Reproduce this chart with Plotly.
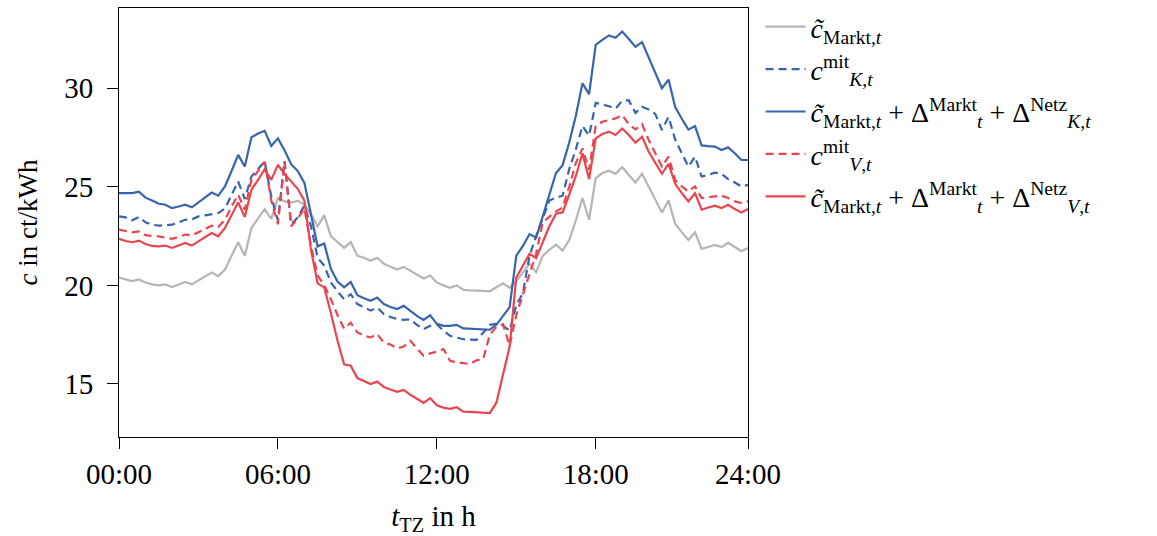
import plotly.graph_objects as go

hours = [k * 0.25 for k in range(96)]

c_markt = [20.4, 20.3, 20.22, 20.3, 20.15, 20.05, 20.0, 20.05, 19.92, 20.05, 20.17, 20.05,
           20.25, 20.47, 20.65, 20.47, 20.8, 21.5, 22.19, 21.5, 22.91, 23.4, 23.87, 23.37,
           24.43, 24.26, 24.2, 24.3, 24.1, 23.6, 23.0, 23.55, 22.5, 22.2, 21.9, 22.2,
           21.5, 21.4, 21.25, 21.4, 21.1, 20.95, 20.8, 20.94, 20.75, 20.55, 20.35, 20.5,
           20.15, 20.0, 19.88, 20.0, 19.78, 19.75, 19.72, 19.72, 19.7, 19.9, 20.1, 19.88,
           20.22, 20.65, 21.1, 20.67, 21.5, 21.8, 22.07, 21.77, 22.3, 23.3, 24.43, 23.33,
           25.44, 25.7, 25.82, 25.66, 26.0, 25.6, 25.22, 25.66, 25.0, 24.35, 23.7, 24.31,
           23.13, 22.7, 22.3, 22.69, 21.85, 21.95, 22.05, 21.94, 22.16, 21.95, 21.73, 21.9]

c_mit_K = [23.5, 23.45, 23.3, 23.47, 23.2, 23.08, 23.03, 23.05, 23.08, 23.2, 23.33, 23.35,
           23.5, 23.55, 23.6, 23.67, 23.9, 24.6, 25.27, 24.38, 25.52, 25.9, 26.28, 24.5,
           23.3, 26.3, 23.1, 23.45, 24.05, 23.0, 21.4, 21.0, 20.15, 19.7, 19.3, 19.55,
           19.05, 18.9, 18.72, 18.87, 18.55, 18.4, 18.3, 18.25, 18.28, 18.0, 17.78, 17.95,
           18.03, 17.7, 17.44, 17.35, 17.27, 17.25, 17.24, 17.6, 18.0, 18.05, 17.95, 17.7,
           19.0, 19.6, 21.5, 22.5, 23.4, 24.3, 24.45, 24.55, 25.9, 26.9, 28.08, 27.6,
           29.26, 29.19, 29.09, 28.97, 29.36, 29.39, 28.75, 29.06, 28.92, 28.7, 27.88, 28.55,
           27.4, 26.7, 26.03, 26.53, 25.52, 25.6, 25.72, 25.66, 25.39, 25.22, 25.02, 25.1]

c_sum_K = [24.68, 24.68, 24.68, 24.75, 24.45, 24.3, 24.14, 24.09, 23.92, 24.0, 24.09, 23.96,
           24.2, 24.45, 24.71, 24.55, 25.02, 25.8, 26.62, 26.03, 27.51, 27.7, 27.84, 27.07,
           27.46, 26.85, 26.15, 25.8, 25.2, 23.6, 21.98, 22.12, 20.85, 20.2, 19.9, 20.17,
           19.5, 19.35, 19.22, 19.38, 19.05, 18.9, 18.8, 18.96, 18.7, 18.45, 18.25, 18.48,
           18.05, 17.95, 17.95, 18.0, 17.82, 17.8, 17.78, 17.76, 17.75, 18.0, 18.45, 18.9,
           21.5, 22.0, 22.6, 22.42, 23.5, 24.6, 25.7, 26.1, 27.25, 28.6, 30.25, 29.7,
           32.2, 32.45, 32.68, 32.56, 32.88, 32.5, 32.1, 32.34, 31.55, 30.8, 30.0, 30.44,
           29.05, 28.45, 27.9, 28.08, 27.1, 27.06, 27.04, 26.87, 27.0, 26.7, 26.36, 26.36]

c_mit_V = [22.83, 22.75, 22.69, 22.74, 22.55, 22.5, 22.49, 22.42, 22.36, 22.45, 22.58, 22.53,
           22.7, 22.85, 23.03, 22.96, 23.33, 24.0, 24.6, 23.84, 25.35, 25.8, 26.28, 24.3,
           23.1, 26.28, 23.0, 23.4, 23.9, 22.0, 20.5, 20.0, 19.3, 18.5, 17.8, 18.11,
           17.61, 17.45, 17.36, 17.53, 17.1, 17.0, 16.8, 16.9, 17.19, 16.8, 16.43, 16.55,
           16.64, 16.77, 16.18, 16.1, 16.05, 16.01, 16.2, 16.26, 17.5, 17.9, 18.03, 16.94,
           18.5, 19.5, 20.5, 21.6, 23.2, 23.5, 23.75, 23.95, 25.0, 26.2, 26.95, 25.86,
           28.08, 28.3, 28.38, 28.47, 28.64, 28.18, 27.91, 28.18, 27.37, 26.7, 26.03, 26.53,
           25.35, 25.02, 24.76, 25.02, 24.43, 24.47, 24.51, 24.55, 24.43, 24.26, 24.18, 24.26]

c_sum_V = [22.36, 22.25, 22.19, 22.27, 22.1, 22.0, 21.98, 22.02, 21.9, 22.02, 22.15, 22.02,
           22.25, 22.45, 22.66, 22.49, 22.91, 23.6, 24.21, 23.47, 24.85, 25.35, 25.89, 25.35,
           26.11, 25.65, 25.3, 24.9, 24.3, 21.8, 20.1, 19.9, 18.6, 17.2, 16.0, 15.93,
           15.3, 15.15, 15.0, 15.12, 14.85, 14.72, 14.6, 14.7, 14.45, 14.25, 14.04, 14.28,
           13.92, 13.8, 13.74, 13.82, 13.6, 13.58, 13.56, 13.54, 13.52, 14.05, 15.4, 16.9,
           20.4, 21.0, 21.6, 21.38, 22.2, 23.0, 23.64, 23.7, 24.6, 25.55, 26.7, 25.39,
           27.46, 27.68, 27.8, 27.63, 27.96, 27.63, 27.24, 27.54, 26.78, 26.23, 25.66, 26.16,
           25.15, 24.68, 24.26, 24.68, 23.84, 23.95, 24.04, 23.92, 24.09, 23.87, 23.7, 23.87]

series_names = [
    "<i>c\u0303</i><sub>Markt,<i>t</i></sub>",
    "<i>c</i><sup>mit</sup><sub><i>K</i>,<i>t</i></sub>",
    "<i>c\u0303</i><sub>Markt,<i>t</i></sub> + \u0394<sup>Markt</sup><sub><i>t</i></sub> + \u0394<sup>Netz</sup><sub><i>K</i>,<i>t</i></sub>",
    "<i>c</i><sup>mit</sup><sub><i>V</i>,<i>t</i></sub>",
    "<i>c\u0303</i><sub>Markt,<i>t</i></sub> + \u0394<sup>Markt</sup><sub><i>t</i></sub> + \u0394<sup>Netz</sup><sub><i>V</i>,<i>t</i></sub>",
]

x_tick_vals = [0, 6, 12, 18, 23.75]
x_tick_text = ["00:00", "06:00", "12:00", "18:00", "24:00"]
y_tick_vals = [15, 20, 25, 30]

GRAY = "#b5b5b5"
BLUE = "#3864ae"
RED = "#e8454f"

series = [
    (c_markt, GRAY, "solid"),
    (c_mit_K, BLUE, "8px,5px"),
    (c_sum_K, BLUE, "solid"),
    (c_mit_V, RED, "8px,5px"),
    (c_sum_V, RED, "solid"),
]

fig = go.Figure()
for i, ((vals, col, dash), name) in enumerate(zip(series, series_names)):
    fig.add_trace(go.Scatter(x=hours, y=vals, mode="lines", name=name,
                             legendgroup=f"g{i}",
                             line=dict(color=col, width=2.2, dash=dash)))

FONT = "Liberation Serif"
fig.update_layout(
    width=1157, height=536,
    margin=dict(l=119, r=409, t=8, b=99, autoexpand=False),
    paper_bgcolor="white", plot_bgcolor="white",
    font=dict(family=FONT, size=28, color="black"),
    showlegend=True,
    legend=dict(x=1.02, y=1.014, xanchor="left", yanchor="top",
                font=dict(family=FONT, size=28, color="black"),
                bgcolor="rgba(0,0,0,0)", tracegroupgap=3, itemwidth=40),
    xaxis=dict(range=[0, 23.75], tickvals=x_tick_vals, ticktext=x_tick_text,
               showgrid=False, zeroline=False, showline=True, linecolor="black",
               linewidth=1, mirror=True, ticks="outside", ticklen=11, tickcolor="black",
               tickfont=dict(family=FONT, size=29),
               title=dict(text="<i>t</i><sub>TZ</sub> in h", font=dict(family=FONT, size=29),
                          standoff=18)),
    yaxis=dict(range=[12.31, 34.07], tickvals=y_tick_vals,
               showgrid=False, zeroline=False, showline=True, linecolor="black",
               linewidth=1, mirror=True, ticks="outside", ticklen=11, tickcolor="black",
               ticklabelstandoff=8,
               tickfont=dict(family=FONT, size=29),
               title=dict(text="<i>c</i> in ct/kWh", font=dict(family=FONT, size=27),
                          standoff=18)),
)

fig.write_html("out.html")
